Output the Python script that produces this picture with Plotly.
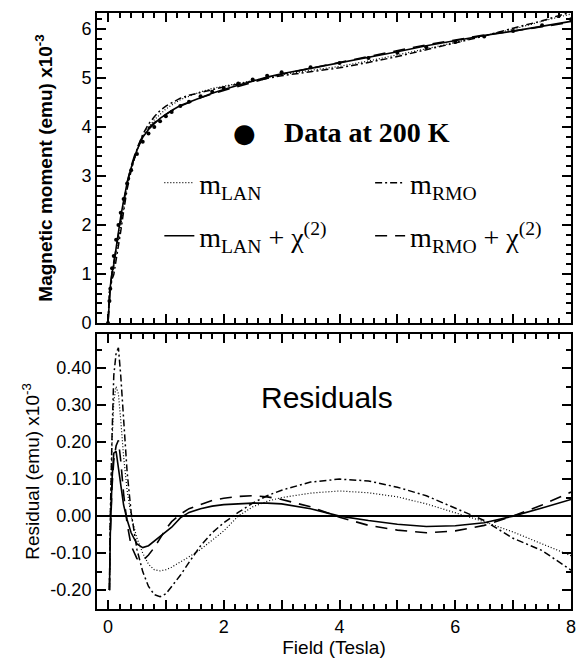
import plotly.graph_objects as go

# ---------------- data ----------------
# Field grid (Tesla) for the top panel (moment) curves
FIELD_TOP = [0.0, 0.025, 0.04, 0.07, 0.1, 0.14, 0.18, 0.22, 0.27, 0.33, 0.4, 0.5, 0.6, 0.7,
             0.8, 0.9, 1.0, 1.1, 1.25, 1.4, 1.6, 1.8, 2.0, 2.25, 2.5, 2.75, 3.0, 3.5, 4.0,
             4.5, 5.0, 5.5, 6.0, 6.5, 7.0, 7.5, 8.0]
# Measured moment at 200 K (x10^-3 emu)
DATA_200K = [0.0, 0.45, 0.70, 1.12, 1.37, 1.70, 2.00, 2.25, 2.53, 2.85, 3.12, 3.45, 3.70, 3.87,
             4.00, 4.12, 4.22, 4.31, 4.43, 4.52, 4.63, 4.72, 4.80, 4.89, 4.97, 5.05, 5.12, 5.22,
             5.31, 5.41, 5.52, 5.63, 5.74, 5.85, 5.96, 6.08, 6.20]
# Fitted curves (x10^-3 emu)
FIT_LAN = [0.0, 0.65, 0.70, 0.92, 1.06, 1.35, 1.67, 1.99, 2.37, 2.78, 3.12, 3.51, 3.80, 4.00,
           4.15, 4.27, 4.37, 4.45, 4.56, 4.63, 4.72, 4.79, 4.84, 4.89, 4.95, 5.01, 5.07, 5.16,
           5.24, 5.35, 5.47, 5.60, 5.73, 5.87, 6.00, 6.16, 6.31]
FIT_RMO = [0.0, 0.65, 0.70, 0.90, 0.99, 1.26, 1.55, 1.87, 2.28, 2.73, 3.11, 3.54, 3.85, 4.06,
           4.21, 4.34, 4.43, 4.50, 4.59, 4.65, 4.71, 4.77, 4.82, 4.88, 4.94, 5.00, 5.05, 5.13,
           5.21, 5.32, 5.44, 5.58, 5.72, 5.86, 6.02, 6.17, 6.35]
FIT_LAN_CHI = [0.0, 0.65, 0.75, 1.02, 1.20, 1.53, 1.87, 2.17, 2.50, 2.86, 3.17, 3.53, 3.79, 3.95,
               4.07, 4.18, 4.26, 4.34, 4.44, 4.51, 4.61, 4.69, 4.77, 4.86, 4.94, 5.02, 5.09, 5.20,
               5.31, 5.42, 5.54, 5.66, 5.77, 5.87, 5.96, 6.06, 6.16]
FIT_RMO_CHI = [0.0, 0.65, 0.75, 1.04, 1.22, 1.51, 1.80, 2.10, 2.47, 2.87, 3.20, 3.57, 3.82, 3.98,
               4.09, 4.18, 4.26, 4.33, 4.43, 4.50, 4.60, 4.68, 4.75, 4.84, 4.92, 5.00, 5.08, 5.20,
               5.31, 5.44, 5.56, 5.68, 5.78, 5.88, 5.96, 6.05, 6.14]

# Field grid for the residuals (bottom panel)
FIELD_RES = [0.025, 0.04, 0.07, 0.1, 0.14, 0.18, 0.22, 0.27, 0.33, 0.4, 0.5, 0.6, 0.7, 0.8,
             0.9, 1.0, 1.1, 1.25, 1.4, 1.6, 1.8, 2.0, 2.25, 2.5, 2.75, 3.0, 3.5, 4.0, 4.5, 5.0,
             5.5, 6.0, 6.5, 7.0, 7.5, 8.0]
RES_LAN = [-0.20, 0.0, 0.20, 0.31, 0.35, 0.33, 0.26, 0.16, 0.07, 0.0, -0.06, -0.10, -0.13,
           -0.145, -0.148, -0.145, -0.138, -0.125, -0.11, -0.09, -0.065, -0.04, 0.0, 0.025,
           0.04, 0.05, 0.062, 0.068, 0.063, 0.052, 0.033, 0.01, -0.015, -0.043, -0.075, -0.107]
RES_RMO = [-0.20, 0.0, 0.22, 0.38, 0.44, 0.455, 0.38, 0.25, 0.12, 0.01, -0.09, -0.15, -0.19,
           -0.212, -0.218, -0.21, -0.19, -0.16, -0.125, -0.08, -0.045, -0.018, 0.01, 0.035,
           0.055, 0.07, 0.092, 0.10, 0.095, 0.078, 0.055, 0.022, -0.012, -0.06, -0.093, -0.146]
RES_LAN_CHI = [-0.20, -0.05, 0.10, 0.17, 0.175, 0.13, 0.08, 0.03, -0.01, -0.045, -0.075, -0.085,
               -0.08, -0.068, -0.055, -0.043, -0.03, -0.005, 0.01, 0.02, 0.027, 0.031, 0.034,
               0.035, 0.035, 0.033, 0.02, 0.0, -0.012, -0.022, -0.028, -0.026, -0.018, 0.0,
               0.022, 0.045]
RES_RMO_CHI = [-0.20, -0.05, 0.08, 0.15, 0.19, 0.205, 0.15, 0.06, -0.02, -0.08, -0.115, -0.12,
               -0.105, -0.085, -0.06, -0.035, -0.015, 0.005, 0.02, 0.032, 0.042, 0.048, 0.053,
               0.055, 0.052, 0.045, 0.025, -0.003, -0.025, -0.038, -0.045, -0.04, -0.025, 0.0,
               0.03, 0.065]

# Tick labels
X_TICKVALS = [0, 1, 2, 3, 4, 5, 6, 7, 8]
X_TICKTEXT = ["0", "", "2", "", "4", "", "6", "", "8"]
YTOP_TICKVALS = [0, 1, 2, 3, 4, 5, 6]
YTOP_TICKTEXT = ["0", "1", "2", "3", "4", "5", "6"]
YBOT_TICKVALS = [-0.2, -0.1, 0.0, 0.1, 0.2, 0.3, 0.4]
YBOT_TICKTEXT = ["-0.20", "-0.10", "0.00", "0.10", "0.20", "0.30", "0.40"]

# series names
NAMES = ["m<sub>LAN</sub>", "m<sub>RMO</sub>",
         "m<sub>LAN</sub> + χ<sup>(2)</sup>", "m<sub>RMO</sub> + χ<sup>(2)</sup>"]

# ---------------- styles ----------------
SANS = "Liberation Sans, Arial, sans-serif"
SERIF = "Liberation Serif, Times New Roman, serif"
DASHES = ["1px,2px", "7px,3px,2px,3px", "solid", "12px,8px"]
WIDTHS = [1.2, 1.5, 1.6, 1.6]
LEGENDS = ["legend", "legend2", "legend3", "legend4"]

fig = go.Figure()

fits = [FIT_LAN, FIT_RMO, FIT_LAN_CHI, FIT_RMO_CHI]
resids = [RES_LAN, RES_RMO, RES_LAN_CHI, RES_RMO_CHI]

fig.add_trace(go.Scatter(x=FIELD_TOP, y=DATA_200K, mode="markers",
                         marker=dict(color="black", size=4), showlegend=False,
                         xaxis="x", yaxis="y"))

for name, f, dsh, w, lg in zip(NAMES, fits, DASHES, WIDTHS, LEGENDS):
    fig.add_trace(go.Scatter(x=FIELD_TOP, y=f, mode="lines", name=name,
                             line=dict(color="black", width=w, dash=dsh),
                             legend=lg, xaxis="x", yaxis="y"))

for name, r, dsh, w in zip(NAMES, resids, DASHES, WIDTHS):
    fig.add_trace(go.Scatter(x=FIELD_RES, y=r, mode="lines", name=name,
                             line=dict(color="black", width=w, dash=dsh),
                             showlegend=False, xaxis="x2", yaxis="y2"))

W, H = 582, 664
ML, MR, MT, MB = 97, 6, 13, 55
PH = H - MT - MB  # 596


def pfy(py):
    return (H - MB - py) / PH


def pfx(px):
    return (px - ML) / (W - ML - MR)


axis_common = dict(showline=True, linecolor="black", linewidth=2, mirror="ticks",
                   ticks="inside", ticklen=9, tickwidth=1.5, tickcolor="black",
                   showgrid=False, zeroline=False,
                   tickfont=dict(family=SANS, size=18, color="black"))

legend_common = dict(xanchor="left", yanchor="middle",
                     bgcolor="rgba(0,0,0,0)", borderwidth=0,
                     font=dict(family=SERIF, size=28, color="black"), itemwidth=30)

fig.update_layout(
    width=W, height=H,
    margin=dict(l=ML, r=MR, t=MT, b=MB),
    paper_bgcolor="white", plot_bgcolor="white",
    font=dict(family=SANS, color="black"),
    xaxis=dict(domain=[0, 1], range=[-0.19, 8], anchor="y",
               tickmode="array", tickvals=X_TICKVALS, showticklabels=False,
               minor=dict(dtick=0.2, ticks="inside", ticklen=5, tickcolor="black",
                          showgrid=False),
               **axis_common),
    yaxis=dict(domain=[pfy(323), 1], range=[0, 6.33], anchor="x",
               tickmode="array", tickvals=YTOP_TICKVALS, ticktext=YTOP_TICKTEXT,
               minor=dict(dtick=0.2, ticks="inside", ticklen=5, tickcolor="black",
                          showgrid=False),
               title=dict(text="<b>Magnetic moment (emu) x10<sup>-3</sup></b>",
                          font=dict(family=SANS, size=19, color="black"), standoff=24),
               **axis_common),
    xaxis2=dict(domain=[0, 1], range=[-0.19, 8], anchor="y2",
                tickmode="array", tickvals=X_TICKVALS, ticktext=X_TICKTEXT,
                minor=dict(dtick=0.2, ticks="inside", ticklen=5, tickcolor="black",
                           showgrid=False),
                title=dict(text="Field (Tesla)",
                           font=dict(family=SANS, size=19, color="black"), standoff=4),
                **axis_common),
    yaxis2=dict(domain=[0, pfy(334)], range=[-0.251, 0.492], anchor="x2",
                tickmode="array", tickvals=YBOT_TICKVALS, ticktext=YBOT_TICKTEXT,
                minor=dict(dtick=0.05, ticks="inside", ticklen=5, tickcolor="black",
                           showgrid=False),
                title=dict(text="Residual (emu) x10<sup>-3</sup>",
                           font=dict(family=SANS, size=19, color="black"), standoff=6),
                **{**axis_common, "zeroline": True},
                zerolinecolor="black", zerolinewidth=1.5),
    legend=dict(x=pfx(160), y=pfy(183), **legend_common),
    legend2=dict(x=pfx(373), y=pfy(183), **legend_common),
    legend3=dict(x=pfx(160), y=pfy(236), **legend_common),
    legend4=dict(x=pfx(373), y=pfy(236), **legend_common),
    annotations=[
        dict(text="●", x=2.36, y=3.88, xref="x", yref="y", showarrow=False,
             font=dict(family="DejaVu Sans", size=26, color="black")),
        dict(text="<b>Data at 200 K</b>", x=3.0, y=3.88, xref="x", yref="y",
             xanchor="left", showarrow=False,
             font=dict(family=SERIF, size=28, color="black")),
        dict(text="Residuals", x=3.79, y=0.32, xref="x2", yref="y2", showarrow=False,
             font=dict(family=SANS, size=30, color="black")),
    ],
)

fig.write_html("out.html", config={"displayModeBar": False},
               post_script="document.body.style.margin='0';document.body.style.padding='0';")
